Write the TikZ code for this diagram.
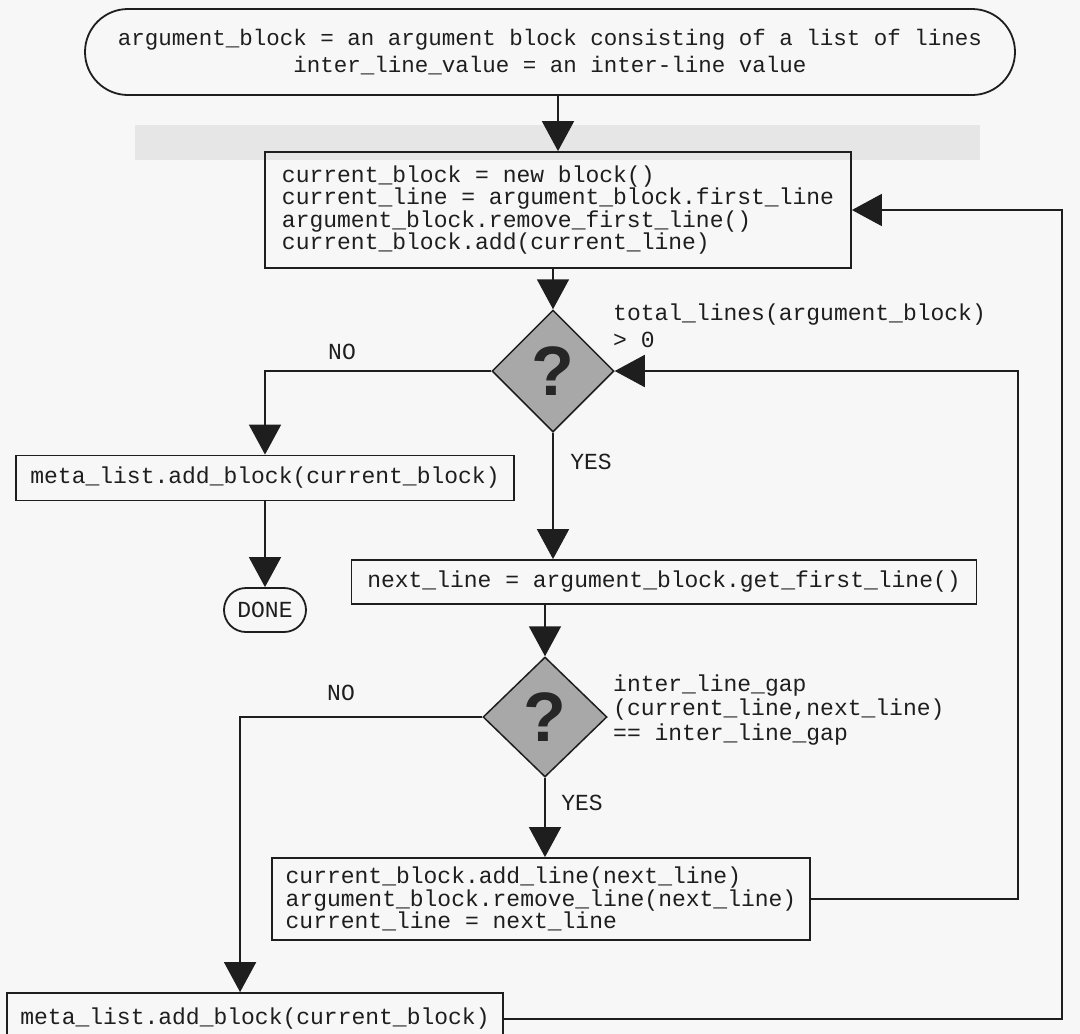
\documentclass[tikz,border=0pt]{standalone}
\usepackage{fontspec}
\newfontfamily\cmono{Liberation Mono}
\newfontfamily\qsans{Liberation Sans}
\usetikzlibrary{shapes.geometric,arrows.meta,calc}
\definecolor{paper}{HTML}{F7F7F7}
\definecolor{ink}{HTML}{1E1E1E}
\definecolor{qfill}{HTML}{A8A8A8}
\definecolor{band}{HTML}{E6E6E6}
\begin{document}
\begin{tikzpicture}[x=1pt,y=-1pt,
  every node/.style={font=\cmono\fontsize{23}{22.5}\selectfont, text=ink},
  proc/.style={draw=ink, line width=1.8pt, inner sep=0pt},
  term/.style={draw=ink, line width=1.8pt, inner sep=0pt},
  decision/.style={diamond, draw=ink, line width=1.5pt, fill=qfill, inner sep=0pt},
  qmark/.style={font=\qsans\bfseries\fontsize{70}{70}\selectfont, text=black!85, inner sep=0pt},
  lbl/.style={anchor=base west, inner sep=0pt},
  flow/.style={draw=ink, line width=1.8pt, -{Triangle[length=30pt,width=32pt]}},
]
\useasboundingbox (0,0) rectangle (1080,1034);
\clip (0,0) rectangle (1080,1034);
\fill[paper] (0,0) rectangle (1080,1034);
\fill[band] (135,125) rectangle (980,160);

% nodes
\node[term, rounded corners=43pt, minimum width=930, minimum height=86, align=center,
      font=\cmono\fontsize{22.5}{27}\selectfont] (start) at (550,52)
  {argument\_block = an argument block consisting of a list of lines\\inter\_line\_value = an inter-line value};
\node[proc, minimum width=586, minimum height=116, align=left] (box1) at (558,210)
  {current\_block = new block()\\current\_line = argument\_block.first\_line\\argument\_block.remove\_first\_line()\\current\_block.add(current\_line)};
\node[decision, minimum width=122, minimum height=122] (d1) at (553,371) {};
\node[qmark] (q1) at (d1.center) {?};
\node[lbl] (t1a) at (613,320) {total\_lines(argument\_block)};
\node[lbl] (t1b) at (613,347) {> 0};
\node[proc, minimum width=498, minimum height=45] (meta1) at (265,478) {meta\_list.add\_block(current\_block)};
\node[proc, rounded corners=22pt, minimum width=82, minimum height=44] (done) at (265,610) {DONE};
\node[proc, minimum width=625, minimum height=44] (next) at (664,582) {next\_line = argument\_block.get\_first\_line()};
\node[decision, minimum width=124, minimum height=120] (d2) at (545,717) {};
\node[qmark] (q2) at (d2.center) {?};
\node[lbl] (t2a) at (613,691) {inter\_line\_gap};
\node[lbl] (t2b) at (613,715) {(current\_line,next\_line)};
\node[lbl] (t2c) at (613,740) {== inter\_line\_gap};
\node[proc, minimum width=538, minimum height=82, align=left] (remove) at (541,899)
  {current\_block.add\_line(next\_line)\\argument\_block.remove\_line(next\_line)\\current\_line = next\_line};
\node[proc, minimum width=496, minimum height=52] (meta2) at (255,1019) {meta\_list.add\_block(current\_block)};

\node (no1) at (342,352) {NO};
\node (yes1) at (591,462) {YES};
\node (no2) at (341,693) {NO};
\node (yes2) at (582,803) {YES};

\coordinate (innerx) at (1018,0);
\coordinate (outerx) at (1062,0);

% connectors
\draw[flow] (start.south -| box1.north) -- (box1.north);
\draw[flow] (box1.south -| d1.north) -- (d1.north);
\draw[flow] (d1.west) -| (meta1.north);
\draw[flow] (meta1.south) -- (done.north);
\draw[flow] (d1.south) -- (d1.south |- next.north);
\draw[flow] (next.south -| d2.north) -- (d2.north);
\draw[flow] (d2.south) -- (d2.south |- remove.north);
\draw[flow] (d2.west) -| ($(meta2.north west)!0.47!(meta2.north east)$);
\draw[flow] (remove.east) -- (remove.east -| innerx) -- (d1.east -| innerx) -- (d1.east);
\draw[flow] (meta2.east) -- (meta2.east -| outerx) -- (box1.east -| outerx) -- (box1.east);
\end{tikzpicture}
\end{document}
